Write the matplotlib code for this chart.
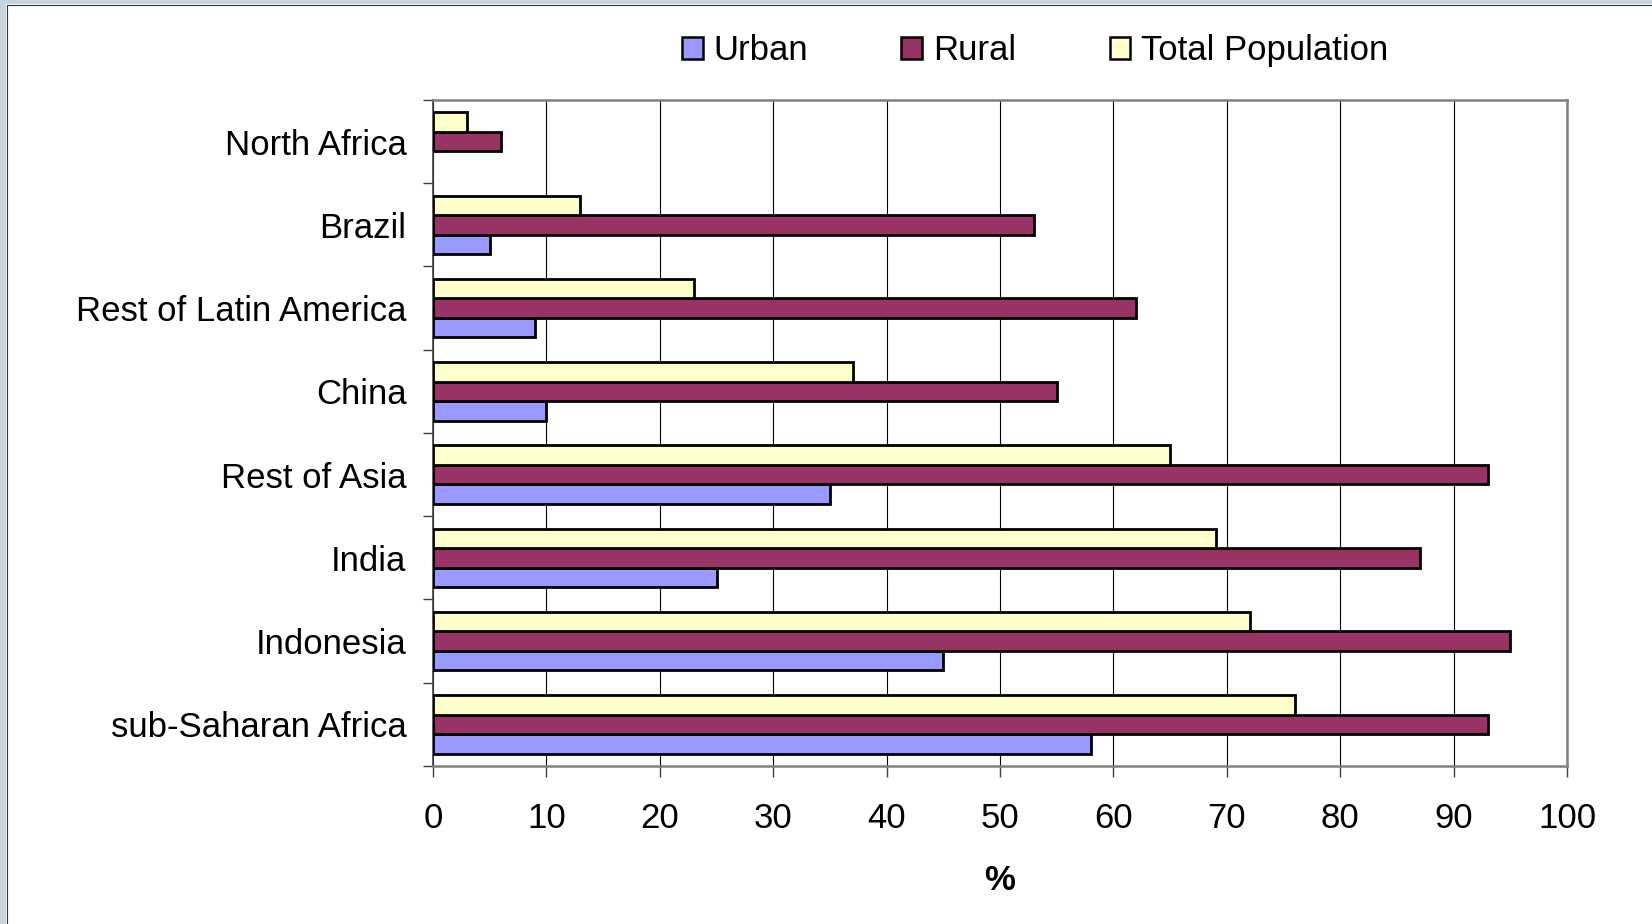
import numpy as np
import matplotlib
matplotlib.use("Agg")
import matplotlib.pyplot as plt
from matplotlib.patches import Patch, Rectangle

plt.rcParams['font.family'] = ['Liberation Sans', 'DejaVu Sans']

# bottom to top
regions = ["sub-Saharan Africa", "Indonesia", "India", "Rest of Asia",
           "China", "Rest of Latin America", "Brazil", "North Africa"]
urban = [58, 45, 25, 35, 10, 9, 5, np.nan]
rural = [93, 95, 87, 93, 55, 62, 53, 6]
total = [76, 72, 69, 65, 37, 23, 13, 3]

c_urban = "#9999FF"
c_rural = "#993366"
c_total = "#FFFFCC"

fig = plt.figure(figsize=(16.52, 9.24), dpi=100)
ax = fig.add_axes([0.2621, 0.1710, 0.6865, 0.7208])

y = np.arange(len(regions))
h = 0.234
kw = dict(height=h, edgecolor="black", linewidth=2.0, zorder=3)
ax.barh(y - h, urban, color=c_urban, **kw)
ax.barh(y, rural, color=c_rural, **kw)
ax.barh(y + h, total, color=c_total, **kw)

ax.set_xlim(0, 100)
ax.set_ylim(-0.5, len(regions) - 0.5)
ax.set_xticks(np.arange(0, 101, 10))
ax.set_yticks(y)
ax.set_yticklabels(regions)
ax.set_yticks(np.arange(-0.5, len(regions), 1), minor=True)
ax.tick_params(axis="y", which="major", length=0, pad=19, labelsize=25)
ax.tick_params(axis="y", which="minor", length=7, width=1, color="#404040")
ax.tick_params(axis="x", length=8, width=1, color="#404040", pad=18, labelsize=25)

ax.grid(axis="x", color="black", linewidth=0.8)
ax.set_axisbelow(True)
for s in ax.spines.values():
    s.set_color("#808080")
    s.set_linewidth(1.8)
ax.spines["left"].set_color("#404040")
ax.spines["left"].set_linewidth(1.2)

ax.set_xlabel("%", fontsize=25, fontweight="bold", labelpad=21)

handles = [Patch(facecolor=c, edgecolor="black", linewidth=1.8) for c in (c_urban, c_rural, c_total)]
fig.legend(handles, ["Urban", "Rural", "Total Population"], ncol=3, loc="center",
           bbox_to_anchor=(0.6265, 0.9455), frameon=False, fontsize=25,
           handlelength=0.6, handleheight=0.6, handletextpad=0.3, columnspacing=2.7)

# window-like border on left and top
fig.patches.append(Rectangle((0, 0), 6 / 1652, 1, transform=fig.transFigure,
                             facecolor="#c9d3db", edgecolor="none"))
fig.patches.append(Rectangle((0, 1 - 4 / 924), 1, 4 / 924, transform=fig.transFigure,
                             facecolor="#c9d3db", edgecolor="none"))
fig.add_artist(plt.Line2D([6.5 / 1652, 6.5 / 1652], [0, 1 - 4.5 / 924], transform=fig.transFigure,
                          color="#303030", linewidth=0.8))
fig.add_artist(plt.Line2D([6.5 / 1652, 1], [1 - 4.5 / 924, 1 - 4.5 / 924], transform=fig.transFigure,
                          color="#303030", linewidth=0.8))

fig.savefig("out.png", dpi=100)
